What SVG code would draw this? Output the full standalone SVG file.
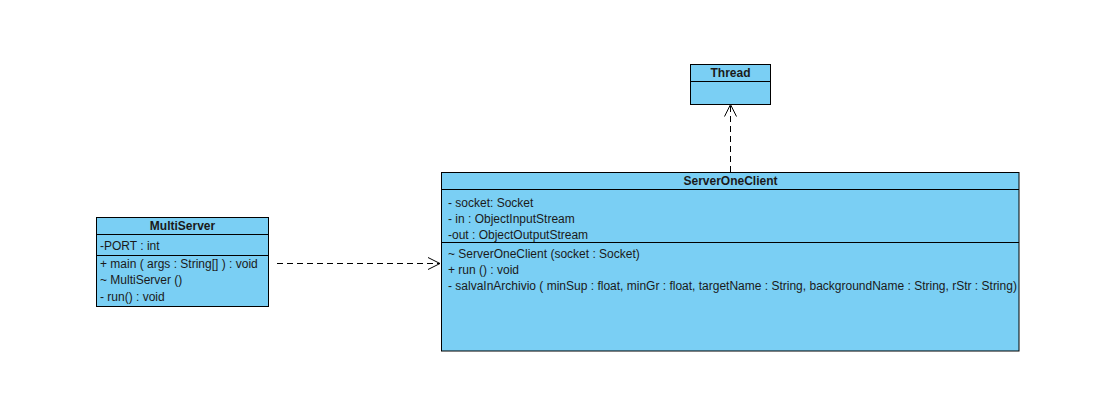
<svg xmlns="http://www.w3.org/2000/svg" width="1095" height="415" viewBox="0 0 1095 415">
<style>
.box{fill:#7ACFF4;stroke:#000;stroke-width:1}
.ln{stroke:#000;stroke-width:1;fill:none}
.t{font-family:"Liberation Sans",Arial,sans-serif;font-size:12px;fill:#1a1a1a}
.h{font-weight:bold;text-anchor:middle}
.dep{stroke:#000;stroke-width:1;fill:none;stroke-dasharray:6,4}
</style>
<defs>
<marker id="open" markerWidth="14" markerHeight="14" refX="13" refY="7" orient="auto" markerUnits="userSpaceOnUse">
<path d="M1,1 L13,7 L1,13" fill="none" stroke="#000" stroke-width="1"/>
</marker>
</defs>
<rect width="1095" height="415" fill="#fff"/>
<g id="connectors">
<line class="dep" x1="277" y1="263.5" x2="440" y2="263.5" marker-end="url(#open)"/>
<line class="dep" x1="730.5" y1="172" x2="730.5" y2="104.5" marker-end="url(#open)"/>
</g>
<g id="MultiServer">
<rect class="box" x="96.5" y="217.5" width="172" height="89"/>
<line class="ln" x1="96.5" y1="234.5" x2="268.5" y2="234.5"/>
<line class="ln" x1="96.5" y1="255.5" x2="268.5" y2="255.5"/>
<text class="t h" x="182.5" y="230">MultiServer</text>
<text class="t" x="100" y="249.5">-PORT : int</text>
<text class="t" x="100" y="267.5">+ main ( args : String[] ) : void</text>
<text class="t" x="100" y="284">~ MultiServer ()</text>
<text class="t" x="100" y="300.5">- run() : void</text>
</g>
<g id="Thread">
<rect class="box" x="690.5" y="64.5" width="80" height="40"/>
<line class="ln" x1="690.5" y1="81.5" x2="770.5" y2="81.5"/>
<text class="t h" x="730.5" y="77">Thread</text>
</g>
<g id="ServerOneClient">
<rect class="box" x="441.5" y="172.5" width="577.5" height="178.5"/>
<line class="ln" x1="441.5" y1="189.5" x2="1019" y2="189.5"/>
<line class="ln" x1="441.5" y1="242.5" x2="1019" y2="242.5"/>
<text class="t h" x="730.5" y="185">ServerOneClient</text>
<text class="t" x="448" y="206.5">- socket: Socket</text>
<text class="t" x="448" y="222.5">- in : ObjectInputStream</text>
<text class="t" x="448" y="238.5">-out : ObjectOutputStream</text>
<text class="t" x="448" y="257.5">~ ServerOneClient (socket : Socket)</text>
<text class="t" x="448" y="273.5">+ run () : void</text>
<text class="t" x="448" y="289.5">- salvaInArchivio ( minSup : float, minGr : float, targetName : String, backgroundName : String, rStr : String)</text>
</g>
</svg>
